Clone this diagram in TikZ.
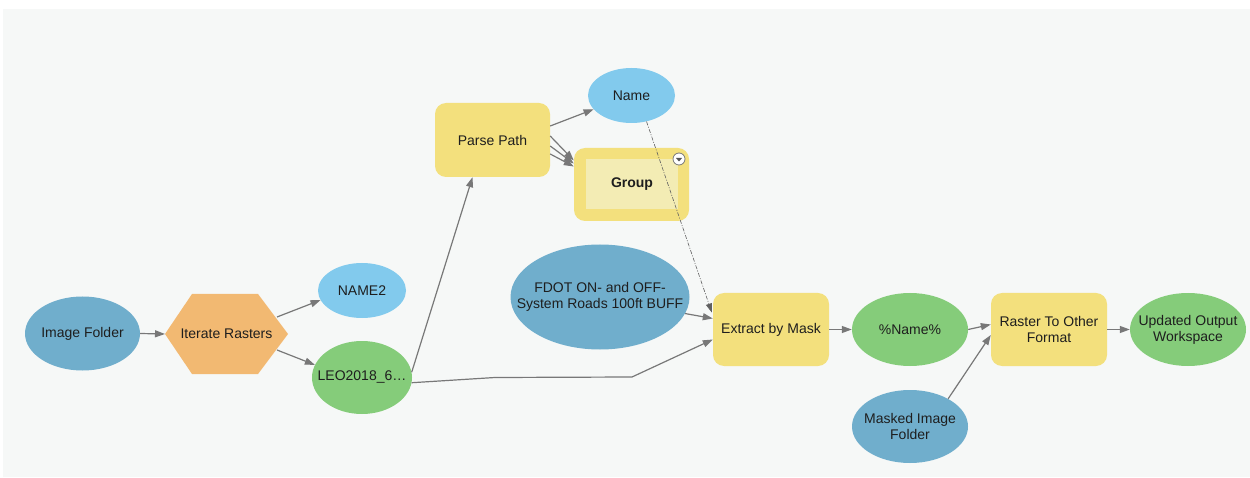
\documentclass[tikz,border=0pt]{standalone}
\usepackage{fontspec}
\setmainfont{Liberation Sans}
\usetikzlibrary{shapes.geometric,arrows.meta,calc}
\definecolor{bgc}{RGB}{246,248,247}
\definecolor{dblue}{RGB}{112,174,204}
\definecolor{lblue}{RGB}{130,202,237}
\definecolor{gcol}{RGB}{133,204,122}
\definecolor{ycol}{RGB}{243,224,125}
\definecolor{ocol}{RGB}{242,185,114}
\definecolor{ginner}{RGB}{243,236,180}
\definecolor{acol}{RGB}{120,120,120}
\definecolor{txt}{RGB}{30,30,30}
\begin{document}
\begin{tikzpicture}[x=1pt,y=-1pt,
  every node/.style={font=\fontsize{14}{16}\selectfont, text=txt, inner sep=0pt, align=center},
  ell/.style={ellipse, draw=none, inner xsep=-40pt, inner ysep=-10pt},
  darkell/.style={ell, fill=dblue},
  lightell/.style={ell, fill=lblue},
  greenell/.style={ell, fill=gcol},
  toolbox/.style={rectangle, rounded corners=11pt, fill=ycol, minimum width=116pt, minimum height=73pt},
  conn/.style={draw=acol, line width=1.2pt, -{Triangle[length=10pt,width=7pt]}},
  dashconn/.style={draw=acol!80!black, line width=0.6pt, dash pattern=on 4pt off 1.5pt on 1pt off 1.5pt, -{Triangle[length=9pt,width=6pt]}}
]
\useasboundingbox (0,0) rectangle (1250,478);
\fill[white] (0,0) rectangle (1250,478);
\fill[bgc] (3,9) rectangle (1250,477);

% nodes
\node[darkell, minimum width=115pt, minimum height=74pt] (imgf) at (82.5,333.5) {Image Folder};

\coordinate (hW) at (165,334);
\coordinate (hNW) at (192,294);
\coordinate (hNE) at (258,294);
\coordinate (hE) at (288,334);
\coordinate (hSE) at (258,374);
\coordinate (hSW) at (192,374);
\fill[ocol] (hW) -- (hNW) -- (hNE) -- (hE) -- (hSE) -- (hSW) -- cycle;
\node (iter) at (226.5,334) {Iterate Rasters};
\coordinate (iterA) at (277,317);
\coordinate (iterB) at (277,350);

\node[lightell, minimum width=88pt, minimum height=55pt] (name2) at (362,290.5) {NAME2};
\node[greenell, minimum width=100pt, minimum height=73pt] (leo) at (362,377.5) {LEO2018\_6…};

\node[toolbox, minimum width=115pt, minimum height=74pt] (parse) at (492.5,140) {Parse Path};
\node[lightell, minimum width=87pt, minimum height=55pt] (name) at (631.5,95.5) {Name};

\node[rectangle, rounded corners=11pt, fill=ycol, minimum width=115pt, minimum height=73pt] (group) at (631.5,184.5) {};
\node[rectangle, fill=ginner, minimum width=92pt, minimum height=50pt, font=\fontsize{14}{16}\selectfont\bfseries] (groupin) at (632,184) {Group};
\node[circle, fill=white, draw=acol, line width=0.8pt, minimum size=12pt] (gicon) at (679,159) {};
\fill[acol!70!black] ($(gicon.center)+(-3,-1)$) -- ($(gicon.center)+(3,-1)$) -- ($(gicon.center)+(0,2.5)$) -- cycle;

\node[darkell, minimum width=179pt, minimum height=105pt] (fdot) at (600,297) {FDOT ON- and OFF-\\System Roads 100ft BUFF};

\node[toolbox] (extract) at (771,329.5) {Extract by Mask};
\node[greenell, minimum width=116pt, minimum height=73pt] (pname) at (910,329.5) {\%Name\%};
\node[toolbox] (raster) at (1049,329.5) {Raster To Other\\Format};
\node[greenell, minimum width=116pt, minimum height=73pt] (upd) at (1188,329.5) {Updated Output\\Workspace};
\node[darkell, minimum width=116pt, minimum height=73pt] (masked) at (910,426.5) {Masked Image\\Folder};

% connectors
\draw[conn] (imgf.east) -- (hW);
\draw[conn] (iterA) -- (name2.193);
\draw[conn] (iterB) -- (leo.165);
\draw[conn] (leo.6) -- ($(parse.south)+(-20,0)$);
\coordinate (bend1) at (495,377.5);
\coordinate (bend2) at (632,377);
\draw[conn] (leo.-6) -- (bend1) -- (bend2) -- ($(extract.west)+(0,10)$);
\draw[conn] (fdot.-11) -- ($(extract.west)+(0,-11)$);
\draw[dashconn] (name.-60) -- ($(extract.west)+(-1,-17)$);
\draw[conn] ($(parse.east)+(0,-14)$) -- (name.200);
\draw[conn] ($(parse.east)+(0,-4)$) -- ($(group.west)+(0,-24)$);
\draw[conn] ($(parse.east)+(0,6)$) -- ($(group.west)+(0,-21)$);
\draw[conn] ($(parse.east)+(0,14)$) -- ($(group.west)+(0,-18)$);
\draw[conn] (extract.east) -- (pname.west);
\draw[conn] (pname.east) -- ($(raster.west)+(0,-5)$);
\draw[conn] (masked.36) -- ($(raster.west)+(0,5.5)$);
\draw[conn] (raster.east) -- (upd.west);
\end{tikzpicture}
\end{document}
